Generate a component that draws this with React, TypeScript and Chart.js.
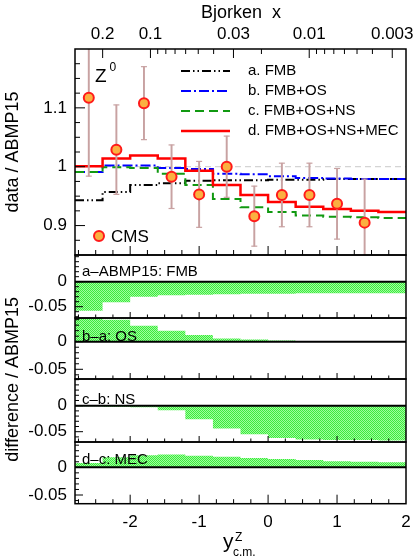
import React, { useEffect, useRef } from 'react';
import { Chart, registerables } from 'chart.js';

Chart.register(...registerables);

const FONT = '"Liberation Sans", Arial, Helvetica, sans-serif';

// rapidity bins (c.m. frame)
const BIN_EDGES = [-2.8, -2.4, -2.0, -1.6, -1.2, -0.8, -0.4, 0.0, 0.4, 0.8, 1.2, 1.6, 2.0];

// ratios to ABMP15, one value per bin
const FMB = [0.943, 0.957, 0.969, 0.972, 0.976, 0.977, 0.977, 0.978, 0.978, 0.979, 0.979, 0.979];
const FMB_OS = [0.991, 1.002, 1.002, 0.998, 0.996, 0.988, 0.987, 0.984, 0.981, 0.98, 0.979, 0.979];
const FMB_OS_NS = [0.991, 0.999, 0.998, 0.988, 0.969, 0.945, 0.931, 0.923, 0.917, 0.915, 0.914, 0.913];
const FMB_OS_NS_MEC = [1.001, 1.014, 1.019, 1.014, 0.993, 0.969, 0.952, 0.94, 0.932, 0.928, 0.925, 0.923];

// difference panels
const DIFF_FMB = [-0.058, -0.041, -0.03, -0.027, -0.026, -0.025, -0.024, -0.024, -0.023, -0.023, -0.023, -0.023];
const DIFF_OS = [0.043, 0.04, 0.029, 0.02, 0.012, 0.006, 0.004, 0.002, 0.001, 0.0008, 0.0006, 0.0005];
const DIFF_NS = [-0.001, -0.002, -0.003, -0.009, -0.026, -0.044, -0.055, -0.062, -0.065, -0.066, -0.066, -0.067];
const DIFF_MEC = [0.008, 0.018, 0.022, 0.023, 0.021, 0.019, 0.017, 0.015, 0.013, 0.011, 0.01, 0.009];

// CMS data
const CMS_Y = [-2.6, -2.2, -1.8, -1.4, -1.0, -0.6, -0.2, 0.2, 0.6, 1.0, 1.4];
const CMS_RATIO = [1.117, 1.029, 1.108, 0.983, 0.953, 1.0, 0.916, 0.952, 0.952, 0.937, 0.905];
const CMS_ERR = [0.133, 0.076, 0.062, 0.054, 0.056, 0.052, 0.051, 0.054, 0.054, 0.06, 0.074];

// axis ticks
const X_MAJOR = [-2, -1, 0, 1, 2];
const X_STEP = 0.25;
const BJX_LABELED = [0.2, 0.1, 0.03, 0.01, 0.003];
const BJX_MINOR = [0.09, 0.08, 0.07, 0.06, 0.05, 0.04, 0.02, 0.009, 0.008, 0.007, 0.006, 0.005, 0.004];
const X_NORM = 0.01816; // M_Z / sqrt(s)
const MAIN_LABELED = [0.9, 1.0, 1.1];
const MAIN_STEP = 0.025;
const DIFF_LABELED = [0, -0.05];
const DIFF_STEP = 0.01;

const X_MIN = -2.8;
const X_MAX = 2.0;
const MAIN_RANGE = [0.85, 1.2];
const PANEL_RANGES = [
  [-0.0726, 0.0534],
  [-0.0676, 0.043],
  [-0.0698, 0.0513],
  [-0.0657, 0.0457],
];
const PANEL_WEIGHTS = [206, 63, 61, 63, 61.7];
const PANEL_LABELS = ['a\u2013ABMP15: FMB', 'b\u2013a: OS', 'c\u2013b: NS', 'd\u2013c: MEC'];
const LEGEND_LABELS = ['a. FMB', 'b. FMB+OS', 'c. FMB+OS+NS', 'd. FMB+OS+NS+MEC'];

const ERR_COLOR = '#c8a2a2';
const near = (a: number, b: number) => Math.abs(a - b) < 1e-6;
const bjxToY = (xb: number) => Math.log(X_NORM / xb);

function rangeTicks(min: number, max: number, step: number) {
  const out: number[] = [];
  const start = Math.ceil(min / step - 1e-6);
  const end = Math.floor(max / step + 1e-6);
  for (let k = start; k <= end; k++) out.push(Math.round(k * step * 1e6) / 1e6);
  return out;
}

function stepData(vals: number[]) {
  const pts = vals.map((v, i) => ({ x: BIN_EDGES[i], y: v }));
  pts.push({ x: BIN_EDGES[BIN_EDGES.length - 1], y: vals[vals.length - 1] });
  return pts;
}

function makePattern(): any {
  const c = document.createElement('canvas');
  c.width = 2;
  c.height = 2;
  const g = c.getContext('2d')!;
  g.fillStyle = '#9dff9d';
  g.fillRect(0, 0, 2, 2);
  g.fillStyle = '#3ee83e';
  g.fillRect(0, 0, 1, 1);
  g.fillRect(1, 1, 1, 1);
  return g.createPattern(c, 'repeat');
}

const CURVES = [
  { label: LEGEND_LABELS[0], vals: FMB, color: '#000000', dash: [9, 3, 1.5, 3, 1.5, 3], width: 2 },
  { label: LEGEND_LABELS[1], vals: FMB_OS, color: '#0000ff', dash: [10, 3, 2, 3], width: 2 },
  { label: LEGEND_LABELS[2], vals: FMB_OS_NS, color: '#119911', dash: [9, 5], width: 2 },
  { label: LEGEND_LABELS[3], vals: FMB_OS_NS_MEC, color: '#ff0000', dash: [], width: 2.5 },
];

const PANEL_IDS = ['y', 'ya', 'yb', 'yc', 'yd'];
const TICK_LEN = [
  { yMaj: 10, yMin: 5, xMaj: 9, xMin: 5 },
  { yMaj: 8, yMin: 4, xMaj: 6, xMin: 3.5 },
  { yMaj: 8, yMin: 4, xMaj: 6, xMin: 3.5 },
  { yMaj: 8, yMin: 4, xMaj: 6, xMin: 3.5 },
  { yMaj: 8, yMin: 4, xMaj: 9, xMin: 4.5 },
];

const decorPlugin = {
  id: 'decor',
  afterDraw(chart: any) {
    const ctx: CanvasRenderingContext2D = chart.ctx;
    const { left: L, right: R, top: T } = chart.chartArea;
    const xs = chart.scales.x;
    const xt = chart.scales.xTop;
    const seg = (x1: number, y1: number, x2: number, y2: number) => {
      ctx.beginPath();
      ctx.moveTo(x1, y1);
      ctx.lineTo(x2, y2);
      ctx.stroke();
    };
    ctx.save();
    ctx.strokeStyle = '#000';
    ctx.fillStyle = '#000';
    PANEL_IDS.forEach((id, i) => {
      const s = chart.scales[id];
      const tl = TICK_LEN[i];
      if (i > 0) {
        ctx.lineWidth = 2;
        const py = s.getPixelForValue(0);
        seg(L, py, R, py);
      }
      ctx.lineWidth = 1;
      s.ticks.forEach((t: any) => {
        const py = s.getPixelForValue(t.value);
        if (py < s.top + 0.5 || py > s.bottom - 0.5) return;
        const len = t.label ? tl.yMaj : tl.yMin;
        seg(L, py, L + len, py);
      });
      xs.ticks.forEach((t: any) => {
        const px = xs.getPixelForValue(t.value);
        if (px < L + 0.5 || px > R - 0.5) return;
        const len = t.label ? tl.xMaj : tl.xMin;
        seg(px, s.bottom, px, s.bottom - len);
      });
      ctx.lineWidth = 1.5;
      ctx.strokeRect(L, s.top, R - L, s.bottom - s.top);
    });
    // top (Bjorken x) ticks
    ctx.lineWidth = 1;
    xt.ticks.forEach((t: any) => {
      const px = xt.getPixelForValue(t.value);
      if (px < L + 0.5 || px > R - 0.5) return;
      seg(px, T, px, T + (t.label ? 9 : 5));
    });

    const main = chart.scales.y;
    // axis titles
    ctx.textBaseline = 'alphabetic';
    ctx.textAlign = 'center';
    ctx.font = `18px ${FONT}`;
    ctx.fillText('Bjorken  x', 241, 18);
    ctx.save();
    ctx.translate(18, (main.top + main.bottom) / 2);
    ctx.rotate(-Math.PI / 2);
    ctx.fillText('data / ABMP15', 0, 0);
    ctx.restore();
    ctx.save();
    const ya = chart.scales.ya;
    const yd = chart.scales.yd;
    ctx.translate(18, (ya.top + yd.bottom) / 2);
    ctx.rotate(-Math.PI / 2);
    ctx.fillText('difference / ABMP15', 0, 0);
    ctx.restore();
    ctx.textAlign = 'left';
    ctx.font = `21px ${FONT}`;
    ctx.fillText('y', 223, 548);
    ctx.font = `12px ${FONT}`;
    ctx.fillText('Z', 235, 541);
    ctx.fillText('c.m.', 233, 556);

    // Z0 label
    ctx.font = `19px ${FONT}`;
    ctx.fillText('Z', 95, 82);
    ctx.font = `12px ${FONT}`;
    ctx.fillText('0', 109.5, 71);

    // legend
    const legY = [71, 91, 111, 131];
    CURVES.forEach((c, i) => {
      ctx.save();
      ctx.strokeStyle = c.color;
      ctx.lineWidth = c.width;
      ctx.setLineDash(c.dash);
      seg(181, legY[i], 230, legY[i]);
      ctx.restore();
      ctx.font = `15px ${FONT}`;
      ctx.textBaseline = 'middle';
      ctx.fillText(c.label, 248, legY[i]);
    });

    // CMS legend
    ctx.beginPath();
    ctx.arc(99, 236, 5, 0, Math.PI * 2);
    ctx.fillStyle = '#fbb040';
    ctx.fill();
    ctx.strokeStyle = '#ff1a1a';
    ctx.lineWidth = 2;
    ctx.stroke();
    ctx.fillStyle = '#000';
    ctx.font = `17px ${FONT}`;
    ctx.textBaseline = 'middle';
    ctx.fillText('CMS', 111, 237);

    // panel labels
    ctx.font = `15px ${FONT}`;
    const offs = [17, 19, 21, 18];
    ['ya', 'yb', 'yc', 'yd'].forEach((id, i) => {
      const s = chart.scales[id];
      ctx.fillText(PANEL_LABELS[i], 82, s.top + offs[i]);
    });
    ctx.restore();
  },
};

function App() {
  const ref = useRef<HTMLCanvasElement>(null);
  useEffect(() => {
    const canvas = ref.current!;
    const pattern = makePattern();
    const tickFont = { family: FONT, size: 17 };

    const xTicks = rangeTicks(X_MIN, X_MAX, X_STEP);
    const bjxTicks = [BJX_MINOR[0], ...BJX_LABELED, ...BJX_MINOR.slice(1)].map(bjxToY);
    const mainTicks = rangeTicks(MAIN_RANGE[0], MAIN_RANGE[1], MAIN_STEP);

    const zeroPad = (s: any) => {
      s.paddingLeft = 0;
      s.paddingRight = 0;
      s.paddingTop = 0;
      s.paddingBottom = 0;
    };

    const noGrid = { display: false, drawTicks: false };

    const yAxis = (id: string, idx: number, min: number, max: number, ticks: number[], labeled: number[]) => ({
      type: 'linear',
      position: 'left',
      stack: 'panels',
      stackWeight: PANEL_WEIGHTS[idx],
      weight: 10 - idx,
      min,
      max,
      grid: noGrid,
      border: { display: false },
      afterBuildTicks: (s: any) => {
        s.ticks = ticks.filter((v) => v > min + 1e-6 && v < max - 1e-6).map((v) => ({ value: v }));
      },
      afterFit: (s: any) => {
        s.width = 75;
        zeroPad(s);
      },
      ticks: {
        autoSkip: false,
        padding: 8,
        color: '#000',
        font: tickFont,
        callback: (v: number) => (labeled.some((l) => near(l, v)) ? String(Math.round(v * 1000) / 1000) : ''),
      },
    });

    const scales: any = {
      x: {
        type: 'linear',
        position: 'bottom',
        min: X_MIN,
        max: X_MAX,
        offset: false,
        grid: noGrid,
        border: { display: false },
        afterBuildTicks: (s: any) => {
          s.ticks = xTicks.map((v) => ({ value: v }));
        },
        afterFit: (s: any) => {
          s.height = 559 - 503.7;
          zeroPad(s);
        },
        ticks: {
          autoSkip: false,
          maxRotation: 0,
          padding: 8,
          color: '#000',
          font: tickFont,
          callback: (v: number) => (X_MAJOR.some((m) => near(m, v)) ? String(Math.round(v)) : ''),
        },
      },
      xTop: {
        type: 'linear',
        position: 'top',
        min: X_MIN,
        max: X_MAX,
        offset: false,
        grid: noGrid,
        border: { display: false },
        afterBuildTicks: (s: any) => {
          s.ticks = bjxTicks.map((v) => ({ value: v }));
        },
        afterFit: (s: any) => {
          s.height = 49;
          zeroPad(s);
        },
        ticks: {
          autoSkip: false,
          maxRotation: 0,
          padding: 4,
          color: '#000',
          font: tickFont,
          callback: (v: number) => {
            const hit = BJX_LABELED.find((b) => near(bjxToY(b), v));
            return hit !== undefined ? String(hit) : '';
          },
        },
      },
      y: yAxis('y', 0, MAIN_RANGE[0], MAIN_RANGE[1], mainTicks, MAIN_LABELED),
    };
    ['ya', 'yb', 'yc', 'yd'].forEach((id, i) => {
      const [mn, mx] = PANEL_RANGES[i];
      scales[id] = yAxis(id, i + 1, mn, mx, rangeTicks(mn, mx, DIFF_STEP), DIFF_LABELED);
    });

    const datasets: any[] = [];
    // CMS points
    datasets.push({
      type: 'scatter',
      label: 'CMS',
      data: CMS_Y.map((x, i) => ({ x, y: CMS_RATIO[i] })),
      xAxisID: 'x',
      yAxisID: 'y',
      pointRadius: 5,
      pointBackgroundColor: '#fbb040',
      pointBorderColor: '#ff1a1a',
      pointBorderWidth: 2,
      order: 0,
    });
    // error bar caps
    [1, -1].forEach((sgn) => {
      datasets.push({
        type: 'scatter',
        data: CMS_Y.map((x, i) => ({ x, y: CMS_RATIO[i] + sgn * CMS_ERR[i] })),
        xAxisID: 'x',
        yAxisID: 'y',
        pointStyle: 'line',
        pointRadius: 3,
        pointBorderColor: ERR_COLOR,
        pointBorderWidth: 1.2,
        order: 1,
      });
    });
    // error bars
    datasets.push({
      type: 'bar',
      data: CMS_Y.map((x, i) => ({ x, y: [CMS_RATIO[i] - CMS_ERR[i], CMS_RATIO[i] + CMS_ERR[i]] })),
      xAxisID: 'x',
      yAxisID: 'y',
      backgroundColor: ERR_COLOR,
      barThickness: 1.3,
      grouped: false,
      order: 2,
    });
    // model curves
    CURVES.slice()
      .reverse()
      .forEach((c, i) => {
        datasets.push({
          type: 'line',
          label: c.label,
          data: stepData(c.vals),
          xAxisID: 'x',
          yAxisID: 'y',
          stepped: true,
          borderColor: c.color,
          borderWidth: c.width,
          borderDash: c.dash,
          pointRadius: 0,
          fill: false,
          order: 3 + i,
        });
      });
    // reference line at 1
    datasets.push({
      type: 'line',
      data: [
        { x: X_MIN, y: 1 },
        { x: X_MAX, y: 1 },
      ],
      xAxisID: 'x',
      yAxisID: 'y',
      borderColor: '#d4d4d4',
      borderWidth: 1.2,
      borderDash: [6, 4],
      pointRadius: 0,
      fill: false,
      order: 9,
    });
    // difference histograms
    [DIFF_FMB, DIFF_OS, DIFF_NS, DIFF_MEC].forEach((vals, i) => {
      datasets.push({
        type: 'line',
        data: stepData(vals),
        xAxisID: 'x',
        yAxisID: ['ya', 'yb', 'yc', 'yd'][i],
        stepped: true,
        borderColor: 'rgba(0,0,0,0)',
        borderWidth: 0.01,
        pointRadius: 0,
        backgroundColor: pattern,
        fill: { value: 0 },
        order: 10,
      });
    });

    const chart = new Chart(canvas, {
      type: 'line',
      data: { datasets },
      options: {
        animation: false,
        responsive: false,
        devicePixelRatio: 1,
        layout: { padding: { left: 0, right: 9, top: 0, bottom: 0 } },
        plugins: { legend: { display: false }, tooltip: { enabled: false } },
        events: [],
        scales,
      },
      plugins: [decorPlugin],
    } as any);
    return () => chart.destroy();
  }, []);

  return (
    <div style={{ position: 'fixed', left: 0, top: 0, width: 415, height: 559, background: '#fff' }}>
      <canvas ref={ref} width={415} height={559} style={{ width: 415, height: 559, display: 'block' }} />
    </div>
  );
}

export default App;
